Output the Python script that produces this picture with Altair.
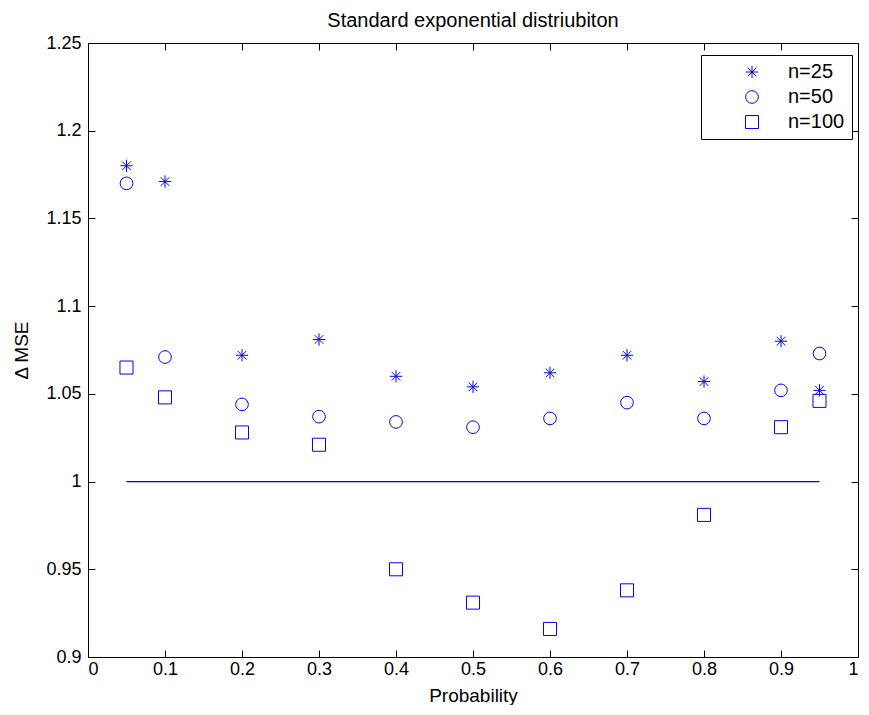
import altair as alt
import pandas as pd

prob = [0.05, 0.1, 0.2, 0.3, 0.4, 0.5, 0.6, 0.7, 0.8, 0.9, 0.95]
n25 = [1.180, 1.171, 1.072, 1.081, 1.060, 1.054, 1.062, 1.072, 1.057, 1.080, 1.052]
n50 = [1.170, 1.071, 1.044, 1.037, 1.034, 1.031, 1.036, 1.045, 1.036, 1.052, 1.073]
n100 = [1.065, 1.048, 1.028, 1.021, 0.950, 0.931, 0.916, 0.938, 0.981, 1.031, 1.046]
series_labels = ["n=25", "n=50", "n=100"]
x_ticks = [0, 0.1, 0.2, 0.3, 0.4, 0.5, 0.6, 0.7, 0.8, 0.9, 1]
y_ticks = [0.9, 0.95, 1.0, 1.05, 1.1, 1.15, 1.2, 1.25]
ref_x = [0.05, 0.95]
ref_y = [1.0, 1.0]

BLUE = "#0000ff"
FONT = "Liberation Sans"
W, H = 770, 614
STAR = "M0,-1L0,1M-1,0L1,0M-0.7,-0.7L0.7,0.7M-0.7,0.7L0.7,-0.7"

rows = []
for lab, vals in zip(series_labels, [n25, n50, n100]):
    for p, v in zip(prob, vals):
        rows.append({"p": p, "v": v, "s": lab})
df = pd.DataFrame(rows)
ref = pd.DataFrame({"p": ref_x, "v": ref_y})

xs = alt.Scale(domain=[0, 1], nice=False, zero=False)
ys = alt.Scale(domain=[0.9, 1.25], nice=False, zero=False)

def tick_axis(orient, offset, values):
    return alt.Axis(orient=orient, offset=offset, values=values, labels=False,
                    domain=False, grid=False, tickSize=7, tickColor="black",
                    title=None)

points = alt.Chart(df).mark_point(filled=False, strokeWidth=1, opacity=1).encode(
    x=alt.X("p:Q", scale=xs,
            axis=alt.Axis(orient="bottom", values=x_ticks, format="~g", tickSize=0,
                          domain=False, grid=False, labelPadding=3,
                          labelFontSize=18, labelFont=FONT, labelColor="black",
                          title="Probability", titleFont=FONT, titleFontSize=19,
                          titleFontWeight="normal", titleColor="black",
                          titlePadding=8)),
    y=alt.Y("v:Q", scale=ys,
            axis=alt.Axis(orient="left", values=y_ticks, format="~g", tickSize=0,
                          domain=False, grid=False, labelPadding=7,
                          labelFontSize=18, labelFont=FONT, labelColor="black",
                          title="Δ MSE", titleFont=FONT, titleFontSize=19,
                          titleFontWeight="normal", titleColor="black",
                          titlePadding=14)),
    shape=alt.Shape("s:N", scale=alt.Scale(domain=series_labels,
                                           range=[STAR, "circle", "square"]),
                    legend=alt.Legend(title=None)),
    size=alt.Size("s:N", scale=alt.Scale(domain=series_labels, range=[150, 170, 110]),
                  legend=alt.Legend(title=None)),
    stroke=alt.value(BLUE),
)

hidden = alt.Chart(ref).mark_point(opacity=0, size=1).encode(
    x=alt.X("p:Q", scale=xs, axis=tick_axis("top", -H, x_ticks)),
    y=alt.Y("v:Q", scale=ys, axis=tick_axis("right", -W, y_ticks)),
)

line = alt.Chart(ref).mark_line(color=BLUE, strokeWidth=1.3, opacity=1).encode(
    x=alt.X("p:Q", scale=xs, axis=tick_axis("bottom", -H, x_ticks)),
    y=alt.Y("v:Q", scale=ys, axis=tick_axis("left", -W, y_ticks)),
    stroke=alt.value(BLUE),
)

chart = alt.layer(hidden, points, line).resolve_axis(
    x="independent", y="independent"
).properties(
    width=W, height=H,
    title=alt.Title("Standard exponential distriubiton", font=FONT, fontSize=20,
                    fontWeight="normal", color="black", offset=3),
    autosize=alt.AutoSizeParams(type="none"),
    padding={"left": 80, "top": 35, "right": 3, "bottom": 48},
).configure_view(
    stroke="black", strokeWidth=1
).configure_legend(
    orient="none", legendX=613, legendY=12,
    strokeColor="black", fillColor="white", padding=7,
    labelFont=FONT, labelFontSize=20, labelColor="black",
    symbolStrokeWidth=1, symbolStrokeColor=BLUE, symbolOpacity=1,
    symbolFillColor="transparent", symbolOffset=34, labelOffset=26, rowPadding=5,
)

chart.save("out.html", embed_options={"renderer": "svg", "actions": False})
